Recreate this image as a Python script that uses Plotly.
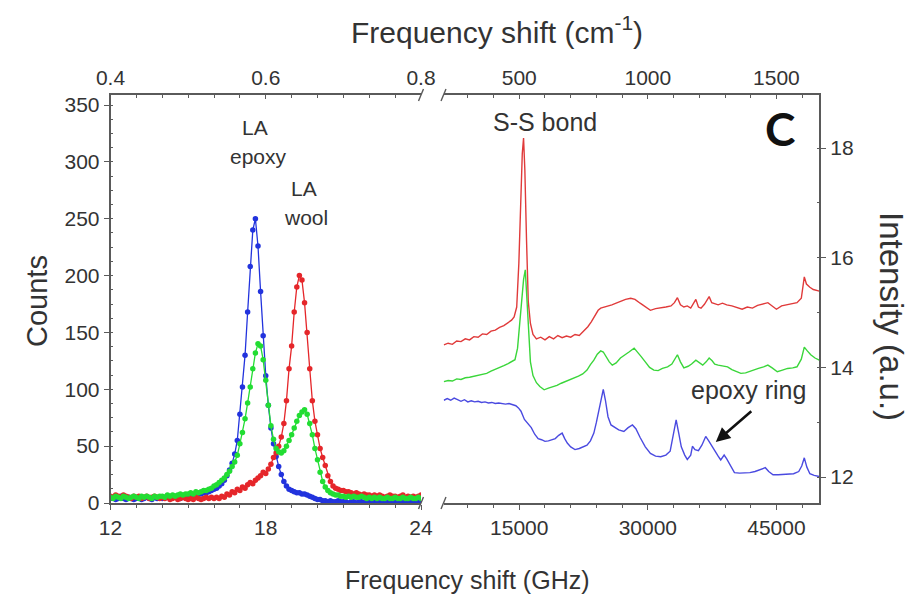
import plotly.graph_objects as go

# ---------------- Brillouin (left panel) ----------------
freq_ghz = [round(12 + 0.1 * i, 1) for i in range(121)]

blue_counts = [4,5,3,4,6,4,3,5,4,3,
               4,5,3,4,5,4,3,5,4,5,
               4,5,6,4,5,6,5,4,6,7,
               6,7,7,6,8,8,9,9,10,11,
               12,13,15,17,20,24,29,35,43,55,
               78,102,130,168,208,240,250,226,186,147,
               112,86,66,52,41,32,25,19,15,12,
               11,10,9,9,8,8,7,6,5,4,
               3,3,2,2,1,2,1,1,2,1,
               1,1,0,1,1,0,1,1,0,1,
               1,0,1,1,0,1,0,1,1,0,
               1,0,1,0,1,1,0,1,0,1,1]

green_counts = [5,4,6,5,4,6,5,4,5,6,
                5,4,6,5,6,5,4,6,5,6,
                6,5,7,6,7,6,7,8,7,8,
                8,9,8,10,9,10,11,11,12,13,
                15,16,18,20,22,25,28,32,36,42,
                52,62,74,88,102,118,132,140,138,126,
                108,86,68,56,48,45,44,46,50,55,
                60,66,72,77,80,82,78,70,60,48,
                38,27,19,14,11,9,8,7,7,6,
                6,5,6,5,6,5,5,6,5,4,
                5,4,5,4,5,4,4,5,4,4,
                5,4,4,5,4,4,5,4,4,5,4]

red_counts = [6,5,7,6,5,7,6,5,4,6,
              5,6,4,5,6,4,5,6,5,4,
              5,4,5,3,4,5,3,4,5,4,
              3,4,3,5,4,3,4,5,4,5,
              4,5,4,6,5,8,7,10,9,12,
              11,14,13,16,18,17,20,22,24,27,
              26,30,34,40,44,50,58,70,90,118,
              138,168,190,200,196,176,150,118,90,72,
              60,48,40,33,24,19,15,13,12,11,
              11,10,10,9,8,9,8,7,8,7,
              7,6,7,6,7,6,5,6,7,6,
              6,5,6,7,5,6,5,6,5,6,7]

# ---------------- Raman (right panel) ----------------
red_ghz = [6200,6700,7200,7700,8200,8700,9200,9700,10200,10700,11200,11700,12200,12700,13200,13700,
           14100,14400,14700,14950,15150,15350,15500,15650,15850,16050,16300,16600,17000,17500,18000,
           18500,19000,19500,20000,20500,21000,21500,22000,22500,23000,23400,23800,24200,24500,25000,
           25300,25800,26300,26800,27400,28000,28500,29100,29700,30300,30900,31500,32100,32700,33100,
           33450,33800,34200,34600,35000,35350,35600,35900,36200,36600,36900,37150,37450,37750,38200,
           38700,39200,39800,40400,41000,41600,42200,42800,43400,44000,44500,45000,45600,46200,46800,
           47400,47900,48250,48500,48900,49300,49700,50000]
red_int = [14.41,14.44,14.42,14.48,14.47,14.52,14.50,14.56,14.55,14.61,14.60,14.66,14.68,14.73,14.76,14.82,
           14.86,14.92,15.10,15.90,17.00,17.90,18.18,17.60,16.30,15.20,14.80,14.60,14.52,14.55,14.50,
           14.56,14.52,14.58,14.54,14.57,14.55,14.60,14.58,14.66,14.74,14.83,14.94,15.04,15.08,15.10,
           15.11,15.14,15.17,15.20,15.24,15.26,15.24,15.17,15.10,15.04,15.07,15.08,15.10,15.12,15.18,
           15.27,15.14,15.10,15.12,15.08,15.18,15.24,15.10,15.08,15.15,15.22,15.29,15.18,15.16,15.14,
           15.17,15.14,15.12,15.09,15.06,15.10,15.08,15.13,15.15,15.18,15.12,15.06,15.12,15.14,15.15,
           15.18,15.26,15.65,15.52,15.46,15.42,15.41,15.39]

green_ghz = [6200,6700,7200,7700,8200,8700,9200,9700,10200,10700,11200,11700,12200,12700,13200,13700,
             14100,14500,14800,15100,15300,15500,15700,15900,16100,16300,16600,17000,17400,17900,18400,
             18900,19400,19900,20400,20900,21400,21900,22400,22900,23300,23700,24100,24500,24800,25100,
             25500,25850,26300,26800,27300,27800,28400,28800,29200,29700,30200,30700,31200,31700,32300,
             32800,33100,33450,33800,34200,34700,35100,35600,36000,36400,36800,37150,37500,37800,38200,
             38700,39300,39800,40300,40850,41400,41900,42400,42900,43500,44000,44500,45100,45700,46300,
             46900,47400,47900,48250,48600,49000,49500,50000]
green_int = [13.74,13.76,13.75,13.79,13.78,13.81,13.82,13.84,13.85,13.88,13.89,13.93,13.96,14.00,14.03,14.07,
             14.10,14.14,14.35,14.90,15.30,15.60,15.78,15.20,14.60,14.10,13.85,13.72,13.65,13.59,13.62,
             13.64,13.67,13.71,13.74,13.78,13.80,13.84,13.88,13.95,14.05,14.13,14.24,14.30,14.28,14.20,
             14.10,14.04,14.08,14.17,14.22,14.28,14.35,14.28,14.20,14.10,14.00,13.95,13.94,13.98,14.01,
             14.06,14.15,14.23,14.10,13.99,14.02,14.06,14.13,14.08,14.04,14.10,14.17,14.12,14.06,14.04,
             14.03,14.01,13.96,13.92,13.89,13.90,13.93,13.95,13.98,14.01,14.04,13.99,13.92,13.95,13.98,
             13.99,14.01,14.15,14.37,14.30,14.23,14.17,14.13]

blue_ghz = [6200,6600,7000,7400,7800,8200,8600,9000,9400,9800,10200,10600,11000,11400,11800,12200,12600,
            13000,13400,13800,14200,14600,14900,15200,15600,16000,16400,16800,17200,17600,18000,18400,
            18800,19200,19600,20000,20300,20600,21000,21500,22000,22500,22900,23300,23700,24000,24300,
            24550,24800,25050,25350,25700,26000,26600,27200,27700,28200,28600,29100,29700,30300,30900,
            31500,32100,32600,32950,33300,33600,33900,34300,34600,35000,35200,35500,35900,36300,36750,
            37100,37500,37800,38200,38500,38900,39200,39500,39800,40100,40700,41300,41900,42500,43100,
            43700,44100,44600,45200,45800,46400,47000,47600,47950,48250,48550,48900,49400,50000]
blue_int = [13.40,13.43,13.40,13.44,13.41,13.38,13.41,13.37,13.39,13.37,13.38,13.36,13.37,13.35,13.36,13.34,13.35,
            13.34,13.33,13.34,13.32,13.30,13.26,13.20,13.05,12.98,12.90,12.78,12.70,12.68,12.65,12.66,
            12.68,12.70,12.76,12.80,12.70,12.62,12.55,12.50,12.52,12.55,12.58,12.66,12.80,13.00,13.25,
            13.45,13.60,13.40,13.10,12.95,12.92,12.86,12.83,12.90,12.95,12.88,12.72,12.55,12.43,12.38,
            12.37,12.40,12.47,12.75,13.04,12.80,12.55,12.40,12.32,12.40,12.56,12.50,12.48,12.58,12.74,
            12.66,12.55,12.48,12.38,12.31,12.40,12.33,12.25,12.16,12.08,12.07,12.07,12.08,12.10,12.14,
            12.17,12.10,12.04,12.04,12.05,12.05,12.06,12.10,12.20,12.35,12.18,12.06,12.03,12.01]

left_ticks = [12, 18, 24]
top_left_ticks = [0.4, 0.6, 0.8]
right_ticks = [15000, 30000, 45000]
top_right_ticks = [500, 1000, 1500]
intensity_ticks = [12, 14, 16, 18]

GHZ_PER_CM = 30.0

# ---------------- geometry ----------------
W, H = 911, 600
L0, L1 = 110.5, 421.0
R0, R1 = 443.5, 819.3
YT, YB = 95.0, 503.0
dom_l = [L0 / W, L1 / W]
dom_r = [R0 / W, R1 / W]
dom_y = [(H - YB) / H, (H - YT) / H]

blue_c = "#2233dd"
red_c = "#e5262a"
green_c = "#22dd33"
axis_c = "#5a5a5a"
txt_c = "#333333"
FONT = "Liberation Sans, Arial, sans-serif"

fig = go.Figure()

for counts, col in [(blue_counts, blue_c), (red_counts, red_c), (green_counts, green_c)]:
    fig.add_trace(go.Scatter(x=freq_ghz, y=counts, mode="lines+markers",
                             line=dict(color=col, width=1.3),
                             marker=dict(color=col, size=5.5, symbol="circle"),
                             xaxis="x", yaxis="y", showlegend=False, hoverinfo="skip"))

for gx, gy, col in [(red_ghz, red_int, "#e03a3a"), (green_ghz, green_int, "#3ad63a"),
                    (blue_ghz, blue_int, "#4a4ae0")]:
    fig.add_trace(go.Scatter(x=gx, y=gy, mode="lines", line=dict(color=col, width=1.4),
                             xaxis="x2", yaxis="y2", showlegend=False, hoverinfo="skip"))

# cm-1 companions (invisible) so the top axes are drawn
fig.add_trace(go.Scatter(x=[f / GHZ_PER_CM for f in freq_ghz], y=blue_counts, mode="lines",
                         line=dict(width=0), opacity=0, xaxis="x3", yaxis="y",
                         showlegend=False, hoverinfo="skip"))
fig.add_trace(go.Scatter(x=[f / GHZ_PER_CM for f in red_ghz], y=red_int, mode="lines",
                         line=dict(width=0), opacity=0, xaxis="x4", yaxis="y2",
                         showlegend=False, hoverinfo="skip"))

tickfont = dict(family=FONT, size=21, color=txt_c)
common = dict(showline=True, linecolor=axis_c, linewidth=1.6, showgrid=False, zeroline=False,
              tickcolor=axis_c, tickwidth=1.3, tickfont=tickfont, automargin=False)

r_lo, r_hi = 6160, 50000
fig.update_layout(
    width=W, height=H, margin=dict(l=0, r=0, t=0, b=0, pad=0, autoexpand=False),
    paper_bgcolor="white", plot_bgcolor="rgba(0,0,0,0)",
    xaxis=dict(domain=dom_l, range=[12, 24], anchor="y", tickvals=left_ticks, ticks="outside",
               ticklen=5, minor=dict(tick0=12, dtick=1, ticks="outside", ticklen=3,
                                     tickcolor=axis_c), **common),
    yaxis=dict(domain=dom_y, range=[0, 358.8], anchor="x", dtick=50, ticks="outside", ticklen=5,
               minor=dict(dtick=12.5, ticks="inside", ticklen=3, tickcolor=axis_c), **common),
    xaxis3=dict(overlaying="x", side="top", anchor="y", range=[0.4, 0.8],
                tickvals=top_left_ticks, ticktext=["0.4", "0.6", "0.8"], ticks="inside", ticklen=4,
                minor=dict(tick0=0.4, dtick=0.2 / 6, ticks="inside", ticklen=3, tickcolor=axis_c),
                **common),
    xaxis2=dict(domain=dom_r, range=[r_lo, r_hi], anchor="y2", tickvals=right_ticks,
                ticktext=[str(t) for t in right_ticks],
                ticks="outside", ticklen=5,
                minor=dict(tick0=0, dtick=3000, ticks="outside", ticklen=3, tickcolor=axis_c),
                **common),
    yaxis2=dict(domain=dom_y, range=[11.526, 18.967], anchor="x2", side="right",
                tickvals=intensity_ticks, ticks="outside", ticklen=5,
                minor=dict(dtick=1, ticks="inside", ticklen=3, tickcolor=axis_c), **common),
    xaxis4=dict(overlaying="x2", side="top", anchor="y2",
                range=[r_lo / GHZ_PER_CM, r_hi / GHZ_PER_CM], tickvals=top_right_ticks,
                ticktext=[str(t) for t in top_right_ticks],
                ticks="inside", ticklen=4,
                minor=dict(tick0=0, dtick=100, ticks="inside", ticklen=3, tickcolor=axis_c),
                **common),
)

# axis break marks
shapes = []
for px in (L1, R0):
    for py in (YT, YB):
        shapes.append(dict(type="line", xref="paper", yref="paper",
                           x0=(px - 2.5) / W, y0=(H - (py + 6)) / H,
                           x1=(px + 2.5) / W, y1=(H - (py - 6)) / H,
                           line=dict(color=axis_c, width=1.4)))
fig.update_layout(shapes=shapes)

ann = []
def txt(x, y, s, size, xref="paper", yref="paper", angle=0, **kw):
    d = dict(x=x, y=y, xref=xref, yref=yref, text=s, showarrow=False, textangle=angle,
             font=dict(family=FONT, size=size, color=kw.pop("color", txt_c)),
             xanchor="center", yanchor="middle")
    d.update(kw)
    ann.append(d)

txt(497 / W, (H - 30) / H, "Frequency shift (cm<sup>-1</sup>)", 30)
txt(467 / W, (H - 580) / H, "Frequency shift (GHz)", 25)
txt(37 / W, (H - 301) / H, "Counts", 29, angle=-90)
txt(891 / W, (H - 316) / H, "Intensity (a.u.)", 33, angle=90)

txt(17.6, 329.8, "LA", 21, xref="x", yref="y")
txt(17.73, 304.3, "epoxy", 21, xref="x", yref="y")
txt(19.46, 277, "LA", 21, xref="x", yref="y")
txt(19.56, 251.5, "wool", 21, xref="x", yref="y")

txt(18050, 18.47, "S-S bond", 25, xref="x2", yref="y2")
txt(41785, 13.59, "epoxy ring", 25, xref="x2", yref="y2")
ann.append(dict(x=37926, y=12.64, xref="x2", yref="y2", text="", showarrow=True,
                ax=37, ay=-32, arrowhead=2, arrowsize=1.1, arrowwidth=2.6, arrowcolor="#111"))
ann.append(dict(x=780 / W, y=(H - 128) / H, xref="paper", yref="paper", text="<b>C</b>",
                showarrow=False, font=dict(family="Lato, Open Sans, sans-serif", size=46,
                                           color="#111"),
                xanchor="center", yanchor="middle"))
fig.update_layout(annotations=ann)

fig.write_html("out.html", config={"displayModeBar": False},
               post_script="document.body.style.margin='0';document.body.style.padding='0';")
